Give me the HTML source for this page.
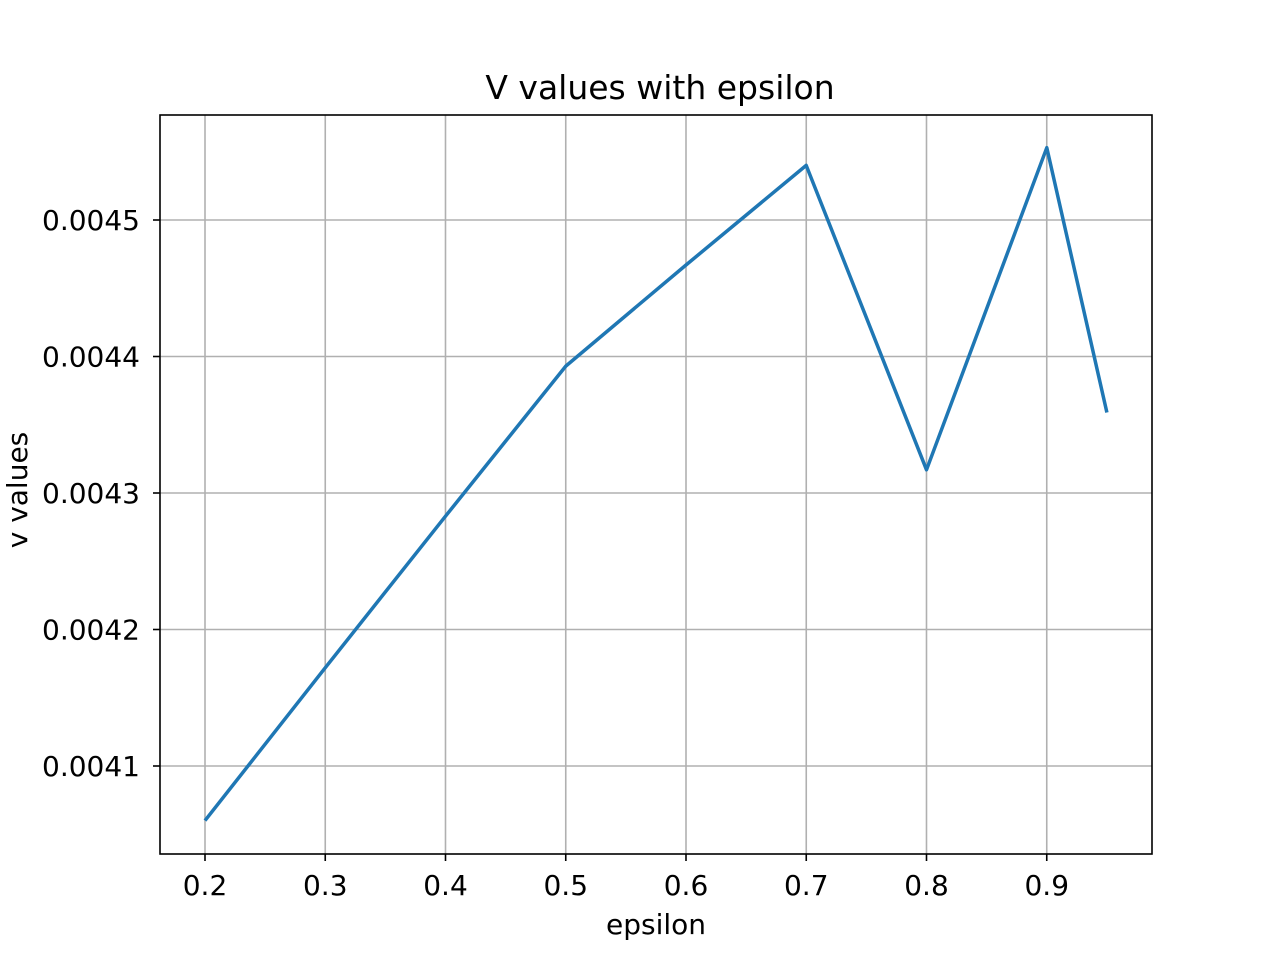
<!DOCTYPE html>
<html><head><meta charset="utf-8"><style>
html,body{margin:0;padding:0;background:#fff;}
svg{display:block;font-family:"DejaVu Sans","Liberation Sans",sans-serif;}
</style></head><body>
<svg id="chart" width="1280" height="960" xmlns="http://www.w3.org/2000/svg">
<rect width="1280" height="960" fill="#fff"/>
<g id="grid"></g>
<g id="series"></g>
<rect x="160" y="115" width="992" height="739" fill="none" stroke="#000" stroke-width="1.6"/>
<g id="ticks"></g>
<text x="660" y="99" font-size="33" text-anchor="middle">V values with epsilon</text>
<text x="656" y="934" font-size="28" text-anchor="middle">epsilon</text>
<text x="27" y="490" font-size="28" text-anchor="middle" transform="rotate(-90 27 490)">v values</text>
</svg>
<script>
const epsilonValues = [0.2, 0.3, 0.4, 0.5, 0.6, 0.7, 0.8, 0.9, 0.95];
const vValues = [0.004060, 0.004172, 0.004283, 0.004393, 0.004467, 0.004540, 0.004317, 0.004553, 0.004359];
const xTicks = [0.2, 0.3, 0.4, 0.5, 0.6, 0.7, 0.8, 0.9];
const xTickLabels = ["0.2","0.3","0.4","0.5","0.6","0.7","0.8","0.9"];
const yTicks = [0.0041, 0.0042, 0.0043, 0.0044, 0.0045];
const yTickLabels = ["0.0041","0.0042","0.0043","0.0044","0.0045"];

const NS = "http://www.w3.org/2000/svg";
const L = 160, R = 1152, T = 115, B = 854;
function xScale(v){ return 205 + (v - 0.2) * 1202.5; }
function yScale(v){ return 766 - (v - 0.0041) * 1365000; }
function mk(tag, attrs, parent){
  const e = document.createElementNS(NS, tag);
  for (const k in attrs) e.setAttribute(k, attrs[k]);
  parent.appendChild(e);
  return e;
}
const grid = document.getElementById("grid");
const ticks = document.getElementById("ticks");
xTicks.forEach((v, i) => {
  const x = xScale(v);
  const g = mk("line", {x1:x, x2:x, y1:T, y2:B, stroke:"#b0b0b0", "stroke-width":1.6}, grid);
  
  
  const t = mk("line", {x1:x, x2:x, y1:B, y2:B+7, stroke:"#000", "stroke-width":1.6}, ticks);
  
  
  const lb = mk("text", {x:x, y:B+41, "font-size":28, "text-anchor":"middle"}, ticks);
  lb.textContent = xTickLabels[i];
  
  
});
yTicks.forEach((v, i) => {
  const y = yScale(v);
  const g = mk("line", {x1:L, x2:R, y1:y, y2:y, stroke:"#b0b0b0", "stroke-width":1.6}, grid);
  
  
  const t = mk("line", {x1:L-7, x2:L, y1:y, y2:y, stroke:"#000", "stroke-width":1.6}, ticks);
  
  
  const lb = mk("text", {x:L-20, y:y+10, "font-size":28, "text-anchor":"end"}, ticks);
  lb.textContent = yTickLabels[i];
  
  
});
const pts = epsilonValues.map((e, i) => xScale(e).toFixed(1) + "," + yScale(vValues[i]).toFixed(1)).join(" ");
const line = mk("polyline", {points:pts, fill:"none", stroke:"#1f77b4", "stroke-width":3.5, "stroke-linejoin":"round"}, document.getElementById("series"));


</script>
</body></html>
